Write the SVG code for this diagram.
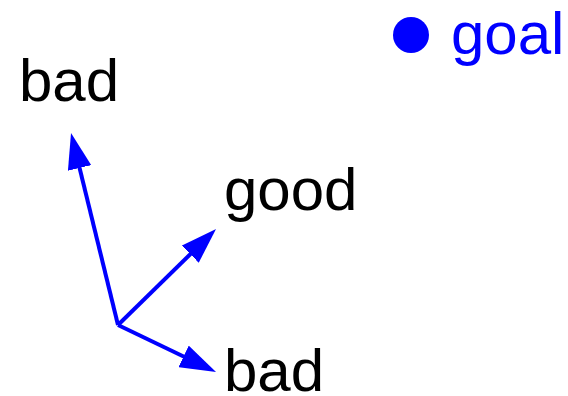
<svg xmlns="http://www.w3.org/2000/svg" width="568" height="396" viewBox="0 0 568 396">
<style>
.lbl{font-family:"Liberation Sans",Arial,sans-serif;font-size:60px;fill:#000}
.goal{fill:#0000ff}
.arr{stroke:#0000ff;stroke-width:4;fill:none;marker-end:url(#head)}
</style>
<defs>
<marker id="head" markerUnits="userSpaceOnUse" markerWidth="36" markerHeight="24" refX="26" refY="12" orient="auto" viewBox="0 0 36 24">
<path d="M0,0 L36,12 L0,24 z" fill="#0000ff"/>
</marker>
</defs>
<rect width="568" height="396" fill="#fff"/>
<g id="goal">
<circle cx="411" cy="35" r="18" class="goal"/>
<text x="451" y="54" class="lbl goal">goal</text>
</g>
<g id="bad-top"><text x="19" y="101" class="lbl">bad</text></g>
<g id="good"><text x="224" y="210" class="lbl">good</text></g>
<g id="bad-bottom"><text x="224" y="391" class="lbl">bad</text></g>
<g id="connectors">
<line x1="118" y1="325" x2="73.4" y2="142.7" class="arr"/>
<line x1="118" y1="325" x2="208.9" y2="236" class="arr"/>
<line x1="118" y1="325" x2="207" y2="367.7" class="arr"/>
</g>
</svg>
